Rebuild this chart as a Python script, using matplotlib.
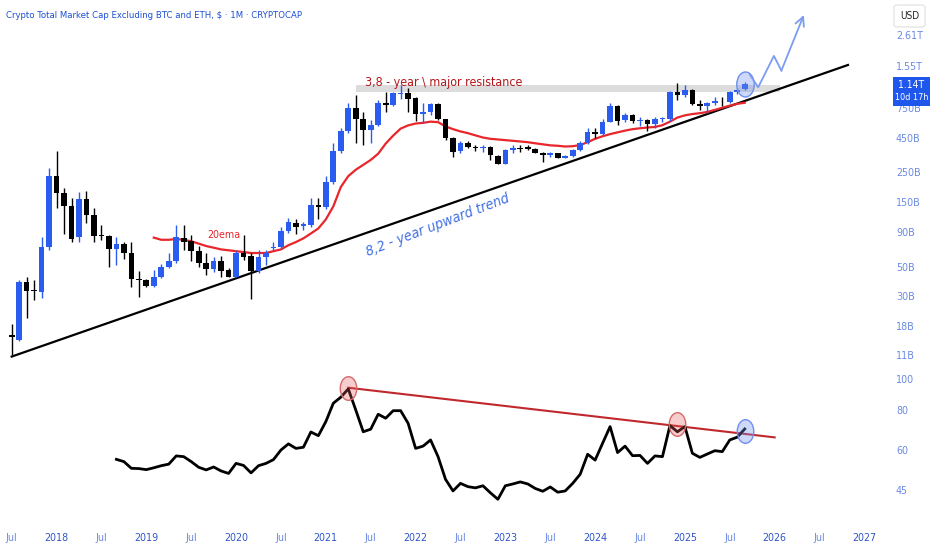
import matplotlib
matplotlib.use("Agg")
import matplotlib.pyplot as plt
import numpy as np
from matplotlib import font_manager
from matplotlib.path import Path
from matplotlib.patches import Rectangle, FancyBboxPatch
from matplotlib.ticker import NullLocator

# monthly candles from Jul 2017 to Sep 2025, values in billions USD
opens = [15.5, 14.1, 38.2, 33.3, 32.5, 70, 237, 177, 141, 83, 159, 120, 85, 85, 67, 74, 63, 40.5,
         40, 36, 42, 50, 55, 82, 77, 65.5, 53, 47.8, 55, 47, 42, 63, 59.5, 46, 58.5, 69, 70, 92, 106,
         100, 102, 143, 138, 211, 362, 508, 760, 620, 518, 560, 823, 790, 965, 975, 890, 678, 708,
         803, 625, 455, 360, 412, 385, 383, 390, 333, 290, 368, 378, 385, 374, 350, 338, 348, 322,
         330, 368, 412, 502, 485, 597, 777, 614, 670, 603, 614, 570, 625, 625, 990, 935, 1027, 803,
         775, 816, 850, 840, 985, 1040]
highs = [18.7, 39.7, 41.5, 39.7, 83.5, 268, 362, 192, 161, 178, 182, 136, 102, 86, 83, 76, 76, 46,
         40.5, 47, 52, 63, 102, 102, 86, 71, 62.6, 59, 59.5, 48.6, 65, 86, 62.6, 66, 66, 76.5, 98,
         114, 112, 108, 161, 161, 237, 416, 533, 823, 943, 708, 614, 865, 1000, 1000, 1119, 1060,
         905, 816, 823, 816, 630, 460, 425, 425, 401, 401, 395, 335, 372, 401, 401, 401, 378, 355,
         357, 352, 338, 372, 425, 533, 533, 625, 816, 794, 690, 685, 650, 625, 645, 645, 1010,
         1160, 1119, 1040, 865, 840, 905, 905, 1010, 1060, 1170]
lows = [11, 13.9, 20.8, 28.2, 29, 66, 136, 87, 76, 76, 105, 76, 79, 50, 51, 57, 35, 29.5, 35.5,
        35.5, 41, 48.5, 53, 66, 55, 50, 43.3, 45.8, 42, 41.6, 41.5, 56, 28.6, 45, 51.4, 66, 68, 88,
        87, 93, 99, 112, 133, 206, 348, 490, 416, 401, 416, 550, 708, 780, 875, 708, 605, 580, 670,
        614, 436, 328, 348, 378, 364, 358, 310, 288, 287, 348, 358, 365, 348, 300, 328, 318, 318,
        325, 364, 405, 448, 475, 590, 564, 597, 580, 550, 505, 533, 597, 605, 865, 915, 794, 729,
        690, 794, 780, 823, 965, 1027]
closes = [15.0, 38.2, 33.1, 33.0, 70.3, 237, 177, 141, 80, 159, 120, 85, 84.5, 67, 74, 63, 40.5,
          40, 36, 42, 50, 55, 82.5, 76, 65.5, 53, 47.8, 55, 46.7, 42, 62.6, 59, 46.5, 59, 63.5, 70,
          92, 107, 98, 103, 143, 138, 211, 362, 508, 760, 620, 518, 560, 823, 794, 970, 980, 875,
          678, 708, 803, 625, 448, 355, 412, 385, 383, 388, 338, 290, 368, 378, 376, 374, 352, 338,
          350, 322, 330, 368, 412, 502, 485, 597, 777, 605, 670, 603, 614, 570, 625, 630, 990, 935,
          1027, 803, 775, 816, 855, 845, 985, 1027, 1140]

# 20 ema, first value at Feb 2019 (month 19)
ema_start = 19
ema_values = [82, 79, 79, 80, 79, 77, 74, 71, 69, 67, 66, 65, 64, 63, 63, 63, 65, 67, 72, 76, 81,
              88, 96, 112, 140, 195, 235, 262, 285, 310, 345, 410, 470, 530, 560, 578, 585, 597,
              592, 550, 525, 505, 490, 472, 455, 445, 440, 435, 430, 425, 420, 412, 405, 398, 395,
              390, 392, 400, 420, 445, 465, 482, 497, 512, 525, 533, 540, 545, 562, 597, 640, 665,
              680, 690, 705, 730, 757, 785, 810, 825]

# rsi, first value at Sep 2018 (month 14)
rsi_start = 14
rsi_values = [56.1, 55.2, 52.6, 52.5, 52.1, 52.8, 53.6, 54.2, 57.5, 57.2, 55.2, 53.0, 52.0, 53.1,
              51.6, 50.7, 54.5, 53.7, 50.9, 53.6, 54.5, 56.0, 60.0, 62.7, 60.7, 61.2, 68.3, 66.5,
              73.6, 84.0, 87.7, 93.1, 80.0, 68.4, 69.7, 77.6, 75.4, 79.6, 79.6, 72.7, 60.7, 61.7,
              64.5, 57.2, 48.6, 44.7, 47.2, 46.1, 45.7, 46.4, 44.1, 42.1, 46.4, 47.0, 47.7, 47.0,
              45.5, 44.6, 46.0, 44.3, 44.7, 47.2, 50.4, 58.2, 55.8, 63.0, 71.0, 58.9, 61.7, 57.6,
              57.7, 54.5, 57.5, 57.2, 71.5, 68.4, 71.0, 58.6, 56.9, 58.3, 59.7, 59.3, 64.5, 65.8,
              69.8]

# drawings (month index, value)
trend_x = [0, 111.8]
trend_y = [10.7, 1575]
resist_x = [46.0, 102.7]
resist_y = [1000, 1119]
arrow_x = [98.7, 99.8, 101.9, 102.9, 105.9]
arrow_y = [1328, 1076, 1839, 1430, 3707]
rsi_line_x = [45, 102.0]
rsi_line_y = [93.9, 65.7]
rsi_red_circles = [(45, 93.5), (89, 72.5)]
rsi_blue_circle = (98, 69.0)
price_circle = (98, 1130)

price_ticks = [11, 18, 30, 50, 90, 150, 250, 450, 750, 1550, 2610]
price_labels = ["11B", "18B", "30B", "50B", "90B", "150B", "250B", "450B", "750B", "1.55T", "2.61T"]
rsi_ticks = [45, 60, 80, 100]
rsi_labels = ["45", "60", "80", "100"]
date_ticks = list(range(0, 115, 6))
date_labels = ["Jul", "2018", "Jul", "2019", "Jul", "2020", "Jul", "2021", "Jul", "2022", "Jul",
               "2023", "Jul", "2024", "Jul", "2025", "Jul", "2026", "Jul", "2027"]

UP = "#2a5cf0"
DOWN = "#000000"
W, H = 932, 550

# the screenshot is squeezed sideways, so use the narrowest sans available
fonts = font_manager.fontManager.ttflist
if any(f.name == "Liberation Sans Narrow" for f in fonts):
    plt.rcParams["font.family"] = ["Liberation Sans Narrow", "DejaVu Sans"]
    SCALE = 1.0
elif any(f.name == "DejaVu Sans" and "condensed" in str(f.stretch) for f in fonts):
    plt.rcParams["font.family"] = ["DejaVu Sans"]
    plt.rcParams["font.stretch"] = "condensed"
    SCALE = 0.92
else:
    plt.rcParams["font.family"] = ["Liberation Sans", "DejaVu Sans"]
    SCALE = 0.95


def fx(x):
    return x / W


def fy(y):
    return 1 - y / H


def fs(size):
    return size * SCALE


def ellipse_marker():
    circ = Path.unit_circle()
    return Path(circ.vertices * np.array([0.7, 1.0]), circ.codes)


def draw_candles(ax):
    x = np.arange(len(opens))
    o = np.array(opens, dtype=float)
    c = np.array(closes, dtype=float)
    colors = np.where(c >= o, UP, DOWN)
    ax.vlines(x, lows, highs, colors=colors, lw=1, zorder=3)
    bottom = np.minimum(o, c)
    top = np.maximum(np.maximum(o, c), bottom * 1.012)
    ax.bar(x, top - bottom, bottom=bottom, width=0.76, color=colors, lw=0, zorder=4)


def main():
    fig = plt.figure(figsize=(9.32, 5.5), dpi=100)
    ax = fig.add_axes([0, fy(368), fx(882), 368 / H])
    ax_rsi = fig.add_axes([0, fy(515), fx(882), (515 - 368) / H], sharex=ax)

    marker = ellipse_marker()

    # price pane
    ax.set_yscale("log")
    ax.set_xlim(-1.56, 116.35)
    ax.set_ylim(8.8, 4790)
    ax.fill_between(resist_x, resist_y[0], resist_y[1], color="#dcdcdc", lw=0, zorder=1)
    ax.plot(trend_x, trend_y, color="black", lw=1.6, zorder=2)
    ema_x = np.arange(ema_start, ema_start + len(ema_values))
    ax.plot(ema_x, ema_values, color="#e8262b", lw=1.6, zorder=2)
    draw_candles(ax)
    ax.plot([price_circle[0]], [price_circle[1]], marker=marker, ms=18, ls="none",
            mfc=(0.45, 0.58, 0.95, 0.35), mec="#6f8ff0", mew=1, zorder=5)
    ax.plot(arrow_x[:-1], arrow_y[:-1], color="#7b9cf2", lw=1.3, zorder=5)
    ax.annotate("", xy=(arrow_x[-1], arrow_y[-1]), xytext=(arrow_x[-2], arrow_y[-2]),
                arrowprops=dict(arrowstyle="->", color="#7b9cf2", lw=1.3, mutation_scale=16,
                                shrinkA=0, shrinkB=0), zorder=5)

    ax.text(47.2, 1095, "3,8 - year \\ major resistance", color="#b3161b", fontsize=fs(9.7),
            va="baseline", ha="left", zorder=6)
    ax.text(26.2, 85.8, "20ema", color="#e0272b", fontsize=fs(8.3), va="center", ha="left")
    ax.text(57.0, 101, "8,2 - year upward trend", color="#3f6fe3", fontsize=fs(11.2),
            style="italic", rotation=21, ha="center", va="center", rotation_mode="anchor")

    ax.yaxis.tick_right()
    ax.set_yticks(price_ticks)
    ax.set_yticklabels(price_labels)
    ax.yaxis.set_minor_locator(NullLocator())
    ax.tick_params(axis="y", length=0, pad=10, labelcolor="#6a89e3", labelsize=fs(8.3))
    ax.tick_params(axis="x", length=0, labelbottom=False)

    # rsi pane
    ax_rsi.set_yscale("log")
    ax_rsi.set_ylim(37.6, 108.2)
    rsi_x = np.arange(rsi_start, rsi_start + len(rsi_values))
    ax_rsi.plot(rsi_x, rsi_values, color="black", lw=2, zorder=3)
    ax_rsi.plot(rsi_line_x, rsi_line_y, color="#c0282d", lw=1.5, zorder=2)
    for cx, cy in rsi_red_circles:
        ax_rsi.plot([cx], [cy], marker=marker, ms=17, ls="none",
                    mfc=(0.9, 0.35, 0.35, 0.3), mec="#d46a6a", mew=1, zorder=4)
    ax_rsi.plot([rsi_blue_circle[0]], [rsi_blue_circle[1]], marker=marker, ms=17, ls="none",
                mfc=(0.45, 0.58, 0.95, 0.35), mec="#6f8ff0", mew=1, zorder=4)

    ax_rsi.yaxis.tick_right()
    ax_rsi.set_yticks(rsi_ticks)
    ax_rsi.set_yticklabels(rsi_labels)
    ax_rsi.yaxis.set_minor_locator(NullLocator())
    ax_rsi.tick_params(axis="y", length=0, pad=10, labelcolor="#6a89e3", labelsize=fs(8.3))
    ax_rsi.set_xticks(date_ticks)
    ax_rsi.set_xticklabels(date_labels)
    ax_rsi.xaxis.set_minor_locator(NullLocator())
    ax_rsi.tick_params(axis="x", length=0, pad=13, labelsize=fs(8.3))
    for lab in ax_rsi.get_xticklabels():
        lab.set_color("#6a89e3" if lab.get_text() == "Jul" else "#2f55c8")

    for a in (ax, ax_rsi):
        for s in a.spines.values():
            s.set_visible(False)
        a.patch.set_alpha(0)

    fig.text(fx(6), fy(15), "Crypto Total Market Cap Excluding BTC and ETH, $ \u00b7 1M \u00b7 CRYPTOCAP",
             color="#1c4fd6", fontsize=fs(7.4), va="center", ha="left")

    # currency box and last price label
    fig.add_artist(FancyBboxPatch((fx(894), fy(27)), fx(31), 22 / H,
                                  boxstyle="round,pad=0,rounding_size=0.004",
                                  transform=fig.transFigure, fc="white", ec="#e6e6e6", lw=1,
                                  zorder=5))
    fig.text(fx(909.5), fy(16), "USD", color="#222222", fontsize=fs(7.8), ha="center",
             va="center", zorder=6)
    fig.add_artist(Rectangle((fx(893), fy(106)), fx(37), 29 / H, transform=fig.transFigure,
                             fc="#1f56ec", ec="none", zorder=5))
    fig.text(fx(911.5), fy(85), "1.14T", color="white", fontsize=fs(8), ha="center",
             va="center", zorder=6)
    fig.text(fx(911.5), fy(98), "10d 17h", color="white", fontsize=fs(7), ha="center",
             va="center", zorder=6)

    fig.savefig("out.png", dpi=100)
    plt.close(fig)


if __name__ == "__main__":
    main()
